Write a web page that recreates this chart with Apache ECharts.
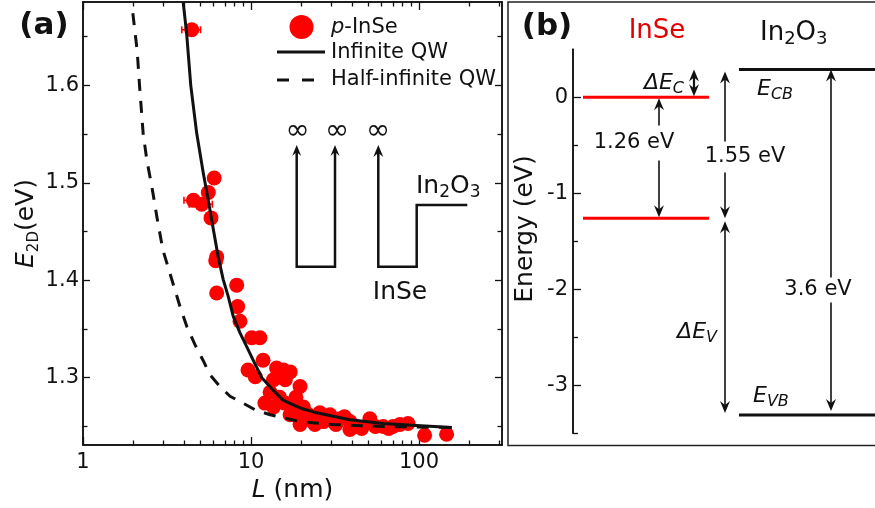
<!DOCTYPE html>
<html>
<head>
<meta charset="utf-8">
<script src="https://cdn.jsdelivr.net/npm/echarts@6/dist/echarts.min.js"></script>
<style>
  html, body { margin: 0; padding: 0; background: #fff; }
  #chart { width: 875px; height: 508px; }
</style>
</head>
<body>
<div id="chart"></div>
<script>
// ---- (a) band gap of p-InSe flakes versus flake thickness ----
const thicknessNm = [4.44, 4.54, 5.09, 5.57, 5.78, 6.04, 6.17, 6.25, 6.25, 8.22, 8.33, 8.6, 10.1, 11.3, 11.8,
  9.6, 10.6, 14.2, 15.6, 17.1, 13.6, 14.9, 16.0, 19.6, 12.1, 13.6, 15.9, 17.9, 20.5, 14.8, 13.0, 18.5, 17.1,
  19.6, 22.5, 25.7, 29.5, 19.6, 22.0, 24.0, 26.0, 27.0, 31.0, 32.0, 33.9, 36.0, 38.8, 38.8, 42.0, 45.6, 51.0,
  55.0, 61.4, 66.0, 70.0, 77.0, 86.0, 108, 146];
const gapEv = [1.657, 1.482, 1.478, 1.490, 1.464, 1.505, 1.420, 1.424, 1.387, 1.395, 1.373, 1.358, 1.341, 1.341, 1.318,
  1.308, 1.301, 1.310, 1.308, 1.306, 1.298, 1.303, 1.298, 1.291, 1.274, 1.270, 1.274, 1.270, 1.270, 1.280, 1.285, 1.280, 1.262,
  1.258, 1.257, 1.264, 1.262, 1.252, 1.262, 1.252, 1.258, 1.255, 1.255, 1.252, 1.258, 1.260, 1.255, 1.247, 1.250, 1.248, 1.258,
  1.250, 1.250, 1.248, 1.250, 1.252, 1.253, 1.241, 1.242];

// thickness uncertainty of the thinnest flakes
const errThickness = [4.44, 4.54, 5.09];
const errGap = [1.657, 1.482, 1.478];
const errHalfWidth = [0.57, 0.55, 0.8];

// quantum-well models
const infiniteL = [3.95, 4.14, 4.38, 4.75, 5.20, 5.57, 5.97, 6.38, 6.83, 7.33, 7.84, 8.60, 9.43, 10.3, 11.6,
  13.6, 15.5, 19.6, 24.6, 38.8, 61.3, 96.8, 157];
const infiniteE = [1.685, 1.653, 1.600, 1.551, 1.510, 1.482, 1.452, 1.424, 1.401, 1.383, 1.363, 1.346, 1.332, 1.318, 1.300,
  1.287, 1.277, 1.269, 1.264, 1.257, 1.253, 1.251, 1.249];
const halfL = [1.98, 2.10, 2.17, 2.28, 2.40, 2.57, 2.76, 2.99, 3.43, 3.78, 4.16, 4.64, 5.18, 5.70, 6.54, 7.50,
  8.96, 10.6, 13.0, 19.6, 30.7, 61, 153];
const halfE = [1.674, 1.636, 1.600, 1.551, 1.523, 1.496, 1.464, 1.431, 1.397, 1.373, 1.352, 1.334, 1.318, 1.303, 1.291, 1.281,
  1.274, 1.267, 1.262, 1.255, 1.252, 1.250, 1.249];

// axis ticks of (a)
const xMajor = [1, 10, 100];
const xMinor = [2, 3, 4, 5, 6, 7, 8, 9, 20, 30, 40, 50, 60, 70, 80, 90, 200, 300];
const yMajorA = [1.3, 1.4, 1.5, 1.6];
const yMinorA = [1.25, 1.35, 1.45, 1.55, 1.65];

// ---- (b) band alignment InSe / In2O3 (eV) ----
const inseCB = 0;
const inseGap = 1.26;
const cbOffset = 0.29;
const in2o3Gap = 3.6;
const inseVB = +(inseCB - inseGap).toFixed(2);
const in2o3CB = inseCB + cbOffset;
const in2o3VB = +(in2o3CB - in2o3Gap).toFixed(2);
const yMajorB = [-3, -2, -1, 0];
const yMinorB = [-3.5, -2.5, -1.5, -0.5];

const FONT = 'DejaVu Sans';
const INK = '#111';
const RED = '#ff0000';

function logAxis(pos, ticks, len, labels) {
  return {
    type: 'log', logBase: 10, gridIndex: 0, min: 1, max: 312, position: pos,
    axisLine: { show: true, onZero: false, lineStyle: { color: INK, width: 1.5 } },
    axisTick: { show: true, inside: true, length: len, customValues: ticks, lineStyle: { color: INK, width: 1.3 } },
    axisLabel: labels ? { show: true, customValues: ticks, fontSize: 21, fontFamily: FONT, color: INK, margin: 7 } : { show: false },
    splitLine: { show: false }, minorTick: { show: false }
  };
}
function gapAxis(pos, ticks, len, labels) {
  return {
    type: 'value', gridIndex: 0, min: 1.231, max: 1.6855, position: pos,
    axisLine: { show: true, onZero: false, lineStyle: { color: INK, width: 1.5 } },
    axisTick: { show: true, inside: true, length: len, customValues: ticks, lineStyle: { color: INK, width: 1.3 } },
    axisLabel: labels ? { show: true, customValues: ticks, fontSize: 21, fontFamily: FONT, color: INK, margin: 4 } : { show: false },
    splitLine: { show: false }
  };
}
function energyAxis(ticks, len, labels) {
  return {
    type: 'value', gridIndex: 1, min: -3.5, max: 0.5, position: 'left',
    axisLine: { show: true, onZero: false, lineStyle: { color: INK, width: 1.5 } },
    axisTick: { show: true, inside: true, length: len, customValues: ticks, lineStyle: { color: INK, width: 1.3 } },
    axisLabel: labels ? { show: true, customValues: ticks, fontSize: 21, fontFamily: FONT, color: INK, margin: 5 } : { show: false },
    splitLine: { show: false }
  };
}

const xA = logAxis('bottom', xMajor, 8, true);
xA.name = '{i|L} (nm)';
xA.nameLocation = 'middle';
xA.nameGap = 29;
xA.nameTextStyle = { fontSize: 25, fontFamily: FONT, color: INK, rich: { i: { fontStyle: 'italic', fontSize: 25, fontFamily: FONT, color: INK } } };

const yA = gapAxis('left', yMajorA, 7, true);
yA.name = '{i|E}{s|2D}(eV)';
yA.nameLocation = 'middle';
yA.nameGap = 38;
yA.nameTextStyle = {
  fontSize: 25, fontFamily: FONT, color: INK,
  rich: {
    i: { fontStyle: 'italic', fontSize: 25, fontFamily: FONT, color: INK, lineHeight: 30 },
    s: { fontSize: 15, fontFamily: FONT, color: INK, verticalAlign: 'bottom', lineHeight: 18 }
  }
};

// levels of (b): [x start, x end, energy, colour index]
const levelRows = [
  [10, 136, inseCB, 0], [10, 136, inseVB, 0],
  [166, 302, in2o3CB, 1], [166, 302, in2o3VB, 1]
];
// arrows of (b): [x, upper energy, lower energy, upper inset px, lower inset px, line width]
const arrowRows = [
  [121, in2o3CB, inseCB, 0, 1, 2.2],
  [86, inseCB, inseVB, 1, 1, 1.6],
  [152, in2o3CB, inseVB, 2, 0, 1.6],
  [152, inseVB, in2o3VB, 3, 2, 1.6],
  [258, in2o3CB, in2o3VB, 0, 4, 1.6]
];

function head(x, y, dir, w, l, n) {
  // dir = -1 for a tip pointing up, +1 for pointing down
  return { type: 'polygon', shape: { points: [[x, y], [x - w, y - dir * l], [x, y - dir * n], [x + w, y - dir * l]] },
    style: { fill: INK } };
}

const chart = echarts.init(document.getElementById('chart'));

function subText(x, y, text, size, subSize, align, color, italicSub) {
  return {
    type: 'text', x: x, y: y, z: 10,
    style: {
      text: text, align: align || 'left', verticalAlign: 'middle',
      fontSize: size, fontFamily: FONT, fill: color || INK,
      rich: {
        n: { fontSize: size, fontFamily: FONT, fill: color || INK, lineHeight: size + 5 },
        i: { fontSize: size, fontStyle: 'italic', fontFamily: FONT, fill: color || INK, lineHeight: size + 5 },
        s: { fontSize: subSize, fontStyle: italicSub ? 'italic' : 'normal', fontFamily: FONT, fill: color || INK,
             verticalAlign: 'bottom', lineHeight: subSize + 2 }
      }
    }
  };
}
function infinity(x) {
  return { type: 'text', x: x, y: 131, style: { text: '\u221e', fontSize: 29, fontFamily: FONT, fill: INK, align: 'center', verticalAlign: 'middle' } };
}

const graphics = [
  // panel labels
  { type: 'text', x: 44, y: 26, style: { text: '(a)', fontSize: 31, fontWeight: 'bold', fontFamily: FONT, fill: INK, align: 'center', verticalAlign: 'middle' } },
  { type: 'text', x: 547, y: 27, style: { text: '(b)', fontSize: 31, fontWeight: 'bold', fontFamily: FONT, fill: INK, align: 'center', verticalAlign: 'middle' } },
  // frame of (b)
  { type: 'rect', shape: { x: 508, y: 2, width: 380, height: 443.5 }, style: { fill: 'none', stroke: '#222', lineWidth: 1.5 } },

  // legend of (a)
  { type: 'circle', shape: { cx: 301.5, cy: 27, r: 12 }, style: { fill: RED } },
  subText(331, 28, '{i|p}-InSe', 21, 15),
  { type: 'line', shape: { x1: 277, y1: 52, x2: 325, y2: 52 }, style: { stroke: INK, lineWidth: 3 } },
  { type: 'text', x: 331, y: 53, style: { text: 'Infinite QW', fontSize: 21, fontFamily: FONT, fill: INK, verticalAlign: 'middle' } },
  { type: 'line', shape: { x1: 277, y1: 80, x2: 315, y2: 80 }, style: { stroke: INK, lineWidth: 3, lineDash: [12, 13] } },
  { type: 'text', x: 331, y: 80, style: { text: 'Half-infinite QW', fontSize: 21, fontFamily: FONT, fill: INK, verticalAlign: 'middle' } },

  // schematic wells in (a)
  { type: 'polyline', shape: { points: [[296.7, 152], [296.7, 266.7], [335, 266.7], [335, 152]] }, style: { fill: 'none', stroke: INK, lineWidth: 2.5 } },
  { type: 'polyline', shape: { points: [[378.3, 152], [378.3, 266.7], [416.7, 266.7], [416.7, 205], [467.3, 205]] }, style: { fill: 'none', stroke: INK, lineWidth: 2.5 } },
  head(296.7, 145, -1, 4.5, 11, 7),
  head(335, 145, -1, 4.5, 11, 7),
  head(378.3, 145, -1, 5, 12, 8),
  infinity(297.5), infinity(337), infinity(378),
  subText(416, 186, '{n|In}{s|2}{n|O}{s|3}', 25, 17),
  { type: 'text', x: 400, y: 292, style: { text: 'InSe', fontSize: 25, fontFamily: FONT, fill: INK, align: 'center', verticalAlign: 'middle' } },

  // titles of (b)
  { type: 'text', x: 657, y: 31, style: { text: 'InSe', fontSize: 26, fontFamily: FONT, fill: '#e00000', align: 'center', verticalAlign: 'middle' } },
  subText(760, 33, '{n|In}{s|2}{n|O}{s|3}', 26, 18),
  // energy axis title
  { type: 'text', x: 525, y: 229, rotation: Math.PI / 2,
    style: { text: 'Energy (eV)', fontSize: 25, fontFamily: FONT, fill: INK, align: 'center', verticalAlign: 'middle' } },

  // annotations of (b)
  subText(684, 83, '{i|\u0394E}{s|C}', 22, 16, 'right', INK, true),
  subText(757, 89, '{i|E}{s|CB}', 22, 16, 'left', INK, true),
  subText(753, 396, '{i|E}{s|VB}', 22, 16, 'left', INK, true),
  subText(717, 332, '{i|\u0394E}{s|V}', 22, 16, 'right', INK, true),
  { type: 'text', x: 634, y: 143, z: 10, style: { text: inseGap.toFixed(2) + ' eV', fontSize: 21, fontFamily: FONT, fill: INK, align: 'center', verticalAlign: 'middle', backgroundColor: '#fff', padding: [7, 2] } },
  { type: 'text', x: 745, y: 157, z: 10, style: { text: (in2o3CB - inseVB).toFixed(2) + ' eV', fontSize: 21, fontFamily: FONT, fill: INK, align: 'center', verticalAlign: 'middle', backgroundColor: '#fff', padding: [5, 2] } },
  { type: 'text', x: 818, y: 290, z: 10, style: { text: in2o3Gap.toFixed(1) + ' eV', fontSize: 21, fontFamily: FONT, fill: INK, align: 'center', verticalAlign: 'middle', backgroundColor: '#fff', padding: [2, 2] } }
];

const option = {
  backgroundColor: '#fff',
  animation: false,
  textStyle: { fontFamily: FONT },
  grid: [
    { left: 83, top: 2, width: 419, height: 443, show: false },
    { left: 573, top: 49.3, width: 302, height: 384, show: false }
  ],
  xAxis: [
    xA,
    logAxis('bottom', xMinor, 4.5, false),
    logAxis('top', xMajor, 8, false),
    logAxis('top', xMinor, 4.5, false),
    { type: 'value', gridIndex: 1, min: 0, max: 302, show: false }
  ],
  yAxis: [
    yA,
    gapAxis('left', yMinorA, 4.5, false),
    gapAxis('right', yMajorA, 7, false),
    gapAxis('right', yMinorA, 4.5, false),
    energyAxis(yMajorB, 8, true),
    energyAxis(yMinorB, 5, false)
  ],
  series: [
    {
      name: 'p-InSe', type: 'scatter', xAxisIndex: 0, yAxisIndex: 0, z: 2,
      symbol: 'circle', symbolSize: 15, itemStyle: { color: RED, opacity: 1 },
      data: thicknessNm.map((l, i) => [l, gapEv[i]])
    },
    {
      name: 'thickness error', type: 'custom', xAxisIndex: 0, yAxisIndex: 0, z: 1,
      data: errThickness.map((l, i) => [l, errGap[i], errHalfWidth[i]]),
      encode: { x: 0, y: 1 },
      renderItem(params, api) {
        const l = api.value(0), e = api.value(1), d = api.value(2);
        const a = api.coord([l - d, e]), b = api.coord([l + d, e]);
        const st = { stroke: RED, lineWidth: 1.6 };
        return { type: 'group', children: [
          { type: 'line', shape: { x1: a[0], y1: a[1], x2: b[0], y2: b[1] }, style: st },
          { type: 'line', shape: { x1: a[0], y1: a[1] - 3.5, x2: a[0], y2: a[1] + 3.5 }, style: st },
          { type: 'line', shape: { x1: b[0], y1: b[1] - 3.5, x2: b[0], y2: b[1] + 3.5 }, style: st }
        ] };
      }
    },
    {
      name: 'Infinite QW', type: 'line', xAxisIndex: 0, yAxisIndex: 0, z: 3,
      showSymbol: false, symbol: 'none', smooth: false,
      lineStyle: { color: INK, width: 3, join: 'round' },
      data: infiniteL.map((l, i) => [l, infiniteE[i]])
    },
    {
      name: 'Half-infinite QW', type: 'line', xAxisIndex: 0, yAxisIndex: 0, z: 3,
      showSymbol: false, symbol: 'none', smooth: false,
      lineStyle: { color: INK, width: 3, type: [12, 10], join: 'round' },
      data: halfL.map((l, i) => [l, halfE[i]])
    },
    {
      name: 'levels', type: 'custom', xAxisIndex: 4, yAxisIndex: 4, z: 3, clip: false,
      data: levelRows,
      encode: { x: [0, 1], y: 2 },
      renderItem(params, api) {
        const a = api.coord([api.value(0), api.value(2)]);
        const b = api.coord([api.value(1), api.value(2)]);
        return { type: 'line', shape: { x1: a[0], y1: a[1], x2: b[0], y2: b[1] },
          style: { stroke: api.value(3) === 0 ? RED : INK, lineWidth: 3 } };
      }
    },
    {
      name: 'offsets', type: 'custom', xAxisIndex: 4, yAxisIndex: 4, z: 4, clip: false,
      data: arrowRows,
      encode: { x: 0, y: [1, 2] },
      renderItem(params, api) {
        const x = api.coord([api.value(0), 0])[0];
        const yTop = api.coord([0, api.value(1)])[1] + api.value(3);
        const yBot = api.coord([0, api.value(2)])[1] - api.value(4);
        const w = api.value(5);
        return { type: 'group', children: [
          { type: 'line', shape: { x1: x, y1: yTop + 6, x2: x, y2: yBot - 6 }, style: { stroke: INK, lineWidth: w } },
          head(x, yTop, -1, 5, 12, 8),
          head(x, yBot, 1, 5, 12, 8)
        ] };
      }
    }
  ],
  graphic: graphics
};

chart.setOption(option);
</script>
</body>
</html>
